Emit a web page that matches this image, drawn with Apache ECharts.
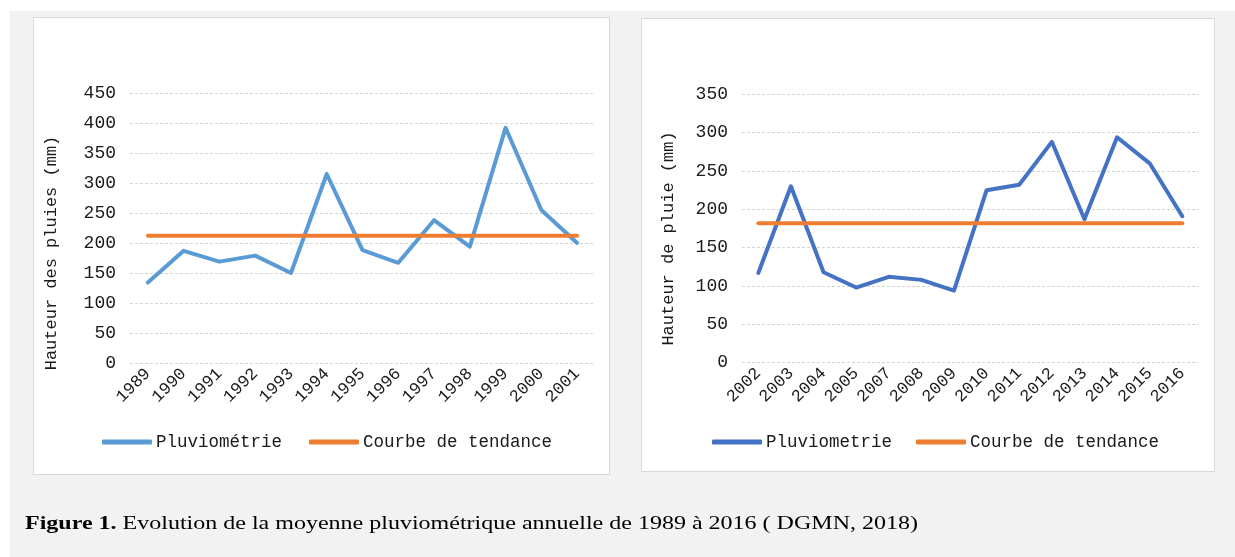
<!DOCTYPE html>
<html>
<head>
<meta charset="utf-8">
<script src="https://cdn.jsdelivr.net/npm/echarts@6/dist/echarts.min.js"></script>
<style>
  html, body { margin:0; padding:0; width:1235px; height:557px; background:#ffffff; overflow:hidden; }
  #bg { position:absolute; left:10px; top:11px; width:1225px; height:546px; background:#f2f2f2; }
  .panel { position:absolute; background:#ffffff; border:1px solid #d9d9d9; box-sizing:border-box; }
  #p1 { left:33px; top:17px; width:577px; height:458px; }
  #p2 { left:641px; top:18px; width:574px; height:454px; }
  #chart { position:absolute; left:0; top:0; width:1235px; height:557px; }
  #caption { position:absolute; left:25px; top:513px; font-family:"Liberation Serif","Times New Roman",serif; font-size:19px; line-height:19px; color:#000; white-space:nowrap; transform-origin:0 0; }
</style>
</head>
<body>
<div id="bg"></div>
<div class="panel" id="p1"></div>
<div class="panel" id="p2"></div>
<div id="chart"></div>
<div id="caption"><b>Figure 1.</b> Evolution de la moyenne pluviométrique annuelle de 1989 à 2016 ( DGMN, 2018)</div>
<script>
// ---- data ----
const years1 = ['1989','1990','1991','1992','1993','1994','1995','1996','1997','1998','1999','2000','2001'];
const rain1  = [134, 187, 169, 179, 150, 315, 188, 167, 238, 194, 392, 255, 200];
const trend1 = [212, 212, 212, 212, 212, 212, 212, 212, 212, 212, 212, 212, 212];

const years2 = ['2002','2003','2004','2005','2007','2008','2009','2010','2011','2012','2013','2014','2015','2016'];
const rain2  = [117, 230, 118, 98, 112, 108, 94, 225, 232, 288, 187, 294, 260, 191];
const trend2 = [182, 182, 182, 182, 182, 182, 182, 182, 182, 182, 182, 182, 182, 182];

const yTitle1 = 'Hauteur des pluies (mm)';
const yTitle2 = 'Hauteur de pluie (mm)';
const name1a = 'Pluviométrie';
const name2a = 'Pluviometrie';
const nameTrend = 'Courbe de tendance';

// ---- styles ----
const FONT = '"Liberation Mono","DejaVu Sans Mono",monospace';
const TXT = '#1a1a1a';
const grid = { color:'#d4d4d4', width:1, type:[3,2] };

function yAxis(gridIndex, max, title, padRight, gap) {
  return {
    type:'value', gridIndex, min:0, max, interval:50,
    axisLine:{show:false}, axisTick:{show:false},
    axisLabel:{ fontFamily:FONT, fontSize:18, color:TXT, margin:14 },
    splitLine:{ lineStyle:grid },
    name:title, nameLocation:'middle', nameGap:gap, nameRotate:90,
    nameTextStyle:{ fontFamily:FONT, fontSize:17, color:TXT, padding:[0,padRight,0,0] }
  };
}
function xAxis(gridIndex, cats) {
  return {
    type:'category', gridIndex, data:cats, boundaryGap:true,
    axisLine:{show:false}, axisTick:{show:false},
    axisLabel:{ fontFamily:FONT, fontSize:17, color:TXT, rotate:45, margin:8, interval:0 }
  };
}
function lineSeries(name, x, y, data, color) {
  return {
    type:'line', name, xAxisIndex:x, yAxisIndex:y, data,
    symbol:'none', smooth:false, animation:false,
    lineStyle:{ color, width:4, cap:'round', join:'round' },
    itemStyle:{ color }
  };
}
function legend(left, names, gap) {
  return {
    left, top:433, padding:0, orient:'horizontal', data:names,
    icon:'roundRect', itemWidth:50, itemHeight:5, itemGap:gap,
    textStyle:{ fontFamily:FONT, fontSize:17.5, color:TXT, padding:[0,0,0,-1] },
    selectedMode:false
  };
}

const chart = echarts.init(document.getElementById('chart'), null, { renderer:'canvas' });
chart.setOption({
  backgroundColor:'transparent',
  animation:false,
  grid:[
    { left:130, width:465, top:93, height:270 },
    { left:742, width:456.6, top:94.3, height:268.4 }
  ],
  xAxis:[ xAxis(0, years1), xAxis(1, years2) ],
  yAxis:[ yAxis(0, 450, yTitle1, 50, 70), yAxis(1, 350, yTitle2, 20, 65) ],
  legend:[ legend(102, [name1a, nameTrend], 27), legend(712, [name2a, nameTrend + ' '], 24) ],
  series:[
    lineSeries(name1a, 0, 0, rain1, '#5B9BD5'),
    lineSeries(nameTrend, 0, 0, trend1, '#ED7D31'),
    lineSeries(name2a, 1, 1, rain2, '#4472C4'),
    lineSeries(nameTrend + ' ', 1, 1, trend2, '#ED7D31')
  ]
});

// stretch caption to the reference width
const cap = document.getElementById('caption');
const w = cap.getBoundingClientRect().width;
cap.style.transform = 'scaleX(' + (893 / w) + ')';
</script>
</body>
</html>
